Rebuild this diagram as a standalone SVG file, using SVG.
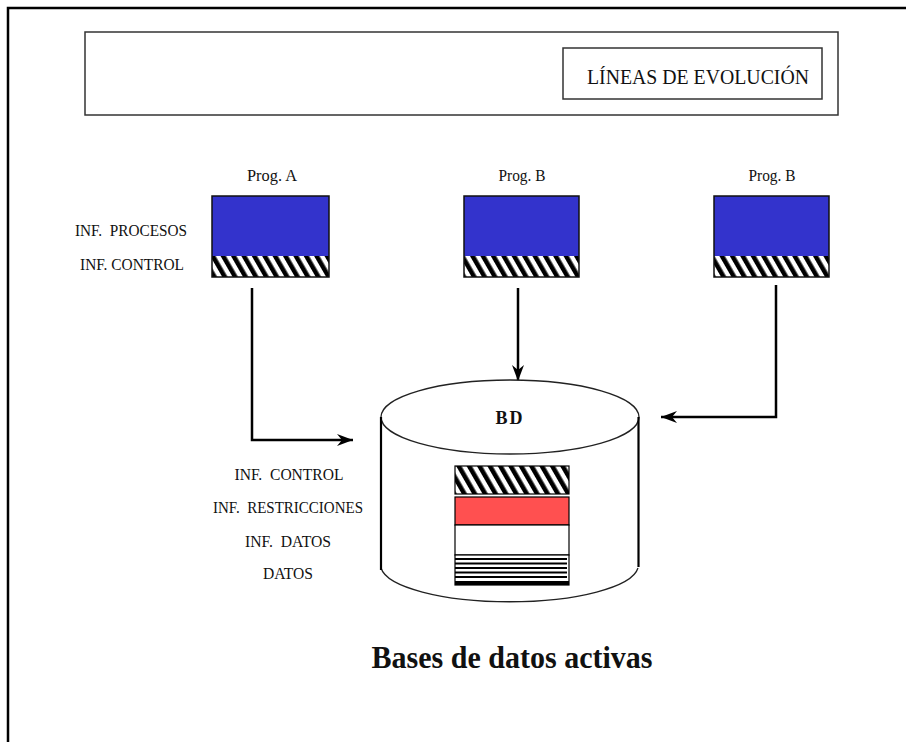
<svg xmlns="http://www.w3.org/2000/svg" width="906" height="742" viewBox="0 0 906 742">
  <style>
    text { font-family: "Liberation Serif", "Times New Roman", serif; fill: #111; }
    .lbl { font-size: 16.5px; text-anchor: middle; }
    .prog { font-size: 16.5px; text-anchor: middle; }
    .box { stroke: #111; stroke-width: 1.5; }
    .blue { fill: #3333CC; }
    .conn { fill: none; stroke: #000; stroke-width: 2.5; }
    .frameline { stroke: #000; stroke-width: 2.5; fill: none; }
    .thin { fill: none; stroke: #333; stroke-width: 1.5; }
  </style>
  <defs>
    <!-- diagonal black/white hatch used for control information -->
    <pattern id="hatch" patternUnits="userSpaceOnUse" width="9" height="10" patternTransform="rotate(-30)">
      <rect x="0" y="0" width="9" height="10" fill="#fff"/>
      <rect x="0" y="0" width="4.6" height="10" fill="#000"/>
    </pattern>
    <marker id="arrow" markerUnits="userSpaceOnUse" markerWidth="20" markerHeight="14" viewBox="-17 -7 19 14" refX="0" refY="0" orient="auto">
      <path d="M0,0 L-16,-6 L-11,0 L-16,6 Z" fill="#000"/>
    </marker>
  </defs>

  <rect width="906" height="742" fill="#fff"/>

  <!-- page frame (top and left edges) -->
  <g id="frame">
    <path class="frameline" d="M8,742 V8 H906"/>
  </g>

  <!-- header band -->
  <g id="header">
    <rect class="thin" x="85" y="32" width="753" height="83" fill="#fff"/>
    <rect class="thin" x="563" y="48" width="259" height="51" fill="#fff"/>
    <text x="698" y="84" font-size="21.5" text-anchor="middle" textLength="222" lengthAdjust="spacingAndGlyphs">LÍNEAS DE EVOLUCIÓN</text>
  </g>

  <!-- program A -->
  <g id="progA">
    <text class="prog" x="272" y="181" textLength="50" lengthAdjust="spacingAndGlyphs">Prog. A</text>
    <rect class="blue" x="212" y="196" width="117" height="60"/>
    <rect x="212" y="256" width="117" height="21" fill="url(#hatch)"/>
    <rect class="box" x="212" y="196" width="117" height="81" fill="none"/>
  </g>

  <!-- program B -->
  <g id="progB1">
    <text class="prog" x="522" y="181" textLength="47" lengthAdjust="spacingAndGlyphs">Prog. B</text>
    <rect class="blue" x="464" y="196" width="115" height="60"/>
    <rect x="464" y="256" width="115" height="21" fill="url(#hatch)"/>
    <rect class="box" x="464" y="196" width="115" height="81" fill="none"/>
  </g>

  <!-- program B (second) -->
  <g id="progB2">
    <text class="prog" x="772" y="181" textLength="47" lengthAdjust="spacingAndGlyphs">Prog. B</text>
    <rect class="blue" x="714" y="196" width="115" height="60"/>
    <rect x="714" y="256" width="115" height="21" fill="url(#hatch)"/>
    <rect class="box" x="714" y="196" width="115" height="81" fill="none"/>
  </g>

  <!-- program legend -->
  <g id="progLegend">
    <text class="lbl" x="131" y="236" textLength="112" lengthAdjust="spacingAndGlyphs">INF.&#160; PROCESOS</text>
    <text class="lbl" x="132" y="270" textLength="104" lengthAdjust="spacingAndGlyphs">INF. CONTROL</text>
  </g>

  <!-- connectors -->
  <g id="connectors">
    <path class="conn" d="M252,288 V440 H353" marker-end="url(#arrow)"/>
    <path class="conn" d="M518,288 V381" marker-end="url(#arrow)"/>
    <path class="conn" d="M776,285 V417 H661" marker-end="url(#arrow)"/>
  </g>

  <!-- database cylinder -->
  <g id="bd">
    <path d="M381,568 A129,37 0 0 0 638,568" fill="none" stroke="#222" stroke-width="1.3"/>
    <ellipse cx="510" cy="417" rx="129" ry="37" fill="#fff" stroke="#222" stroke-width="1.3"/>
    <line x1="381" y1="417" x2="381" y2="570" stroke="#000" stroke-width="2.2"/>
    <line x1="638.5" y1="417" x2="638.5" y2="567" stroke="#000" stroke-width="2.2"/>
    <text x="510" y="424" font-size="18" font-weight="bold" text-anchor="middle" letter-spacing="2">BD</text>

    <!-- stored layers -->
    <rect x="455" y="466" width="114" height="28" fill="url(#hatch)"/>
    <rect x="455" y="466" width="114" height="28" fill="none" stroke="#000" stroke-width="1.2"/>
    <rect x="455" y="497" width="114" height="28" fill="#FF5050" stroke="#000" stroke-width="1.2"/>
    <rect x="455" y="525" width="114" height="30" fill="#fff" stroke="#000" stroke-width="1.2"/>
    <rect x="455" y="555" width="114" height="30" fill="#fff" stroke="#000" stroke-width="1.2"/>
    <g stroke="#000" stroke-width="1.8">
      <line x1="455" y1="559" x2="567" y2="559"/>
      <line x1="455" y1="563.5" x2="567" y2="563.5"/>
      <line x1="455" y1="568" x2="567" y2="568"/>
      <line x1="455" y1="572.5" x2="567" y2="572.5"/>
      <line x1="455" y1="577" x2="567" y2="577"/>
    </g>
    <rect x="455" y="581" width="114" height="4" fill="#000"/>
  </g>

  <!-- database legend -->
  <g id="bdLegend">
    <text class="lbl" x="289" y="480" textLength="109" lengthAdjust="spacingAndGlyphs">INF.&#160; CONTROL</text>
    <text class="lbl" x="288" y="513" textLength="150" lengthAdjust="spacingAndGlyphs">INF.&#160; RESTRICCIONES</text>
    <text class="lbl" x="288" y="547" textLength="86" lengthAdjust="spacingAndGlyphs">INF.&#160; DATOS</text>
    <text class="lbl" x="288" y="579" textLength="50" lengthAdjust="spacingAndGlyphs">DATOS</text>
  </g>

  <!-- caption -->
  <g id="caption">
    <text x="512" y="668" font-size="31" font-weight="bold" text-anchor="middle" textLength="281" lengthAdjust="spacingAndGlyphs">Bases de datos activas</text>
  </g>
</svg>
